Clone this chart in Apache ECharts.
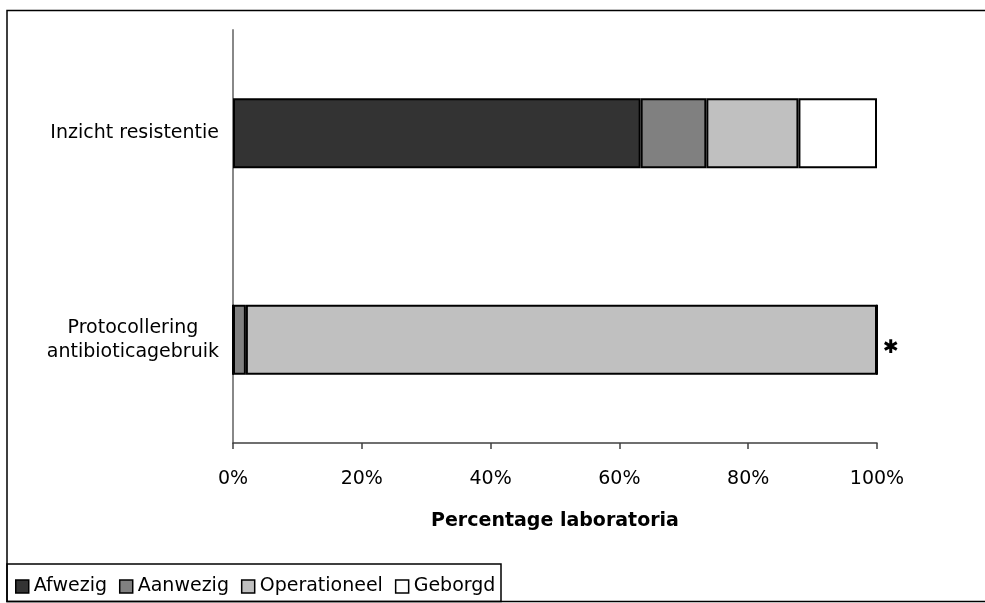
<!DOCTYPE html>
<html>
<head>
<meta charset="utf-8">
<script src="https://cdn.jsdelivr.net/npm/echarts@6/dist/echarts.min.js"></script>
<style>
  html, body { margin: 0; padding: 0; background: #fff; }
  #chart { width: 985px; height: 603px; }
</style>
</head>
<body>
<div id="chart"></div>
<script>
// Categories (top to bottom)
const categories = ['Inzicht resistentie', 'Protocollering\nantibioticagebruik'];

// Share of laboratories per stage (%)
const afwezig      = [63.3, 0];
const aanwezig     = [10.2, 2.0];
const operationeel = [14.3, 98.0];
const geborgd      = [12.2, 0];

const seriesNames = ['Afwezig', 'Aanwezig', 'Operationeel', 'Geborgd'];
const seriesColors = ['#333333', '#808080', '#c0c0c0', '#ffffff'];
const seriesValues = [afwezig, aanwezig, operationeel, geborgd];

// Category marked with an asterisk after its bar
const starredIndex = 1;

const font = 'DejaVu Sans, Verdana, sans-serif';

const series = seriesNames.map((name, s) => ({
  name,
  type: 'bar',
  stack: 'total',
  barWidth: 70,
  itemStyle: { color: seriesColors[s], borderColor: '#000', borderWidth: 2 },
  emphasis: { disabled: true },
  data: seriesValues[s].map((v, i) => {
    if (name === 'Operationeel' && i === starredIndex) {
      return {
        value: v,
        label: {
          show: true, position: 'right', distance: 6,
          formatter: '✱', fontSize: 19, color: '#000',
          fontFamily: 'DejaVu Sans', offset: [0, 8]
        }
      };
    }
    return v;
  })
}));

const chart = echarts.init(document.getElementById('chart'), null, { renderer: 'canvas' });
chart.setOption({
  animation: false,
  backgroundColor: '#fff',
  grid: { left: 233, right: 108, top: 30, bottom: 160, containLabel: false },
  xAxis: {
    type: 'value', min: 0, max: 100, interval: 20,
    axisLine: { show: true, lineStyle: { color: '#404040', width: 1.5 } },
    axisTick: { show: true, length: 6, lineStyle: { color: '#404040', width: 1.5 } },
    splitLine: { show: false },
    axisLabel: { formatter: '{value}%', color: '#000', fontSize: 19, fontFamily: font, margin: 27 },
    name: 'Percentage laboratoria',
    nameLocation: 'middle',
    nameGap: 69,
    nameTextStyle: { fontSize: 19, fontWeight: 'bold', color: '#000', fontFamily: font }
  },
  yAxis: {
    type: 'category', inverse: true, data: categories,
    axisLine: { show: true, lineStyle: { color: '#888888', width: 2 } },
    axisTick: { show: false },
    axisLabel: {
      color: '#000', fontSize: 19, fontFamily: font, margin: 14, align: 'right',
      formatter: v => v.split('\n').map(l => '{c|' + l + '}').join('\n'),
      rich: { c: { align: 'center', fontSize: 19, fontFamily: font, color: '#000', lineHeight: 24 } }
    }
  },
  legend: {
    data: seriesNames,
    left: 10, top: 572,
    itemWidth: 13, itemHeight: 13, itemGap: 12,
    icon: 'rect',
    itemStyle: { borderColor: '#000', borderWidth: 1.5 },
    textStyle: { fontSize: 19, fontFamily: font, color: '#000' },
    selectedMode: false
  },
  graphic: [
    // outer frame
    { type: 'rect', shape: { x: 7, y: 10.5, width: 1000, height: 591 },
      style: { fill: null, stroke: '#000', lineWidth: 1.5 }, silent: true, z: 100 },
    // legend frame
    { type: 'rect', shape: { x: 7, y: 564, width: 494, height: 37.5 },
      style: { fill: null, stroke: '#000', lineWidth: 1.5 }, silent: true, z: 100 }
  ],
  series
});
</script>
</body>
</html>
